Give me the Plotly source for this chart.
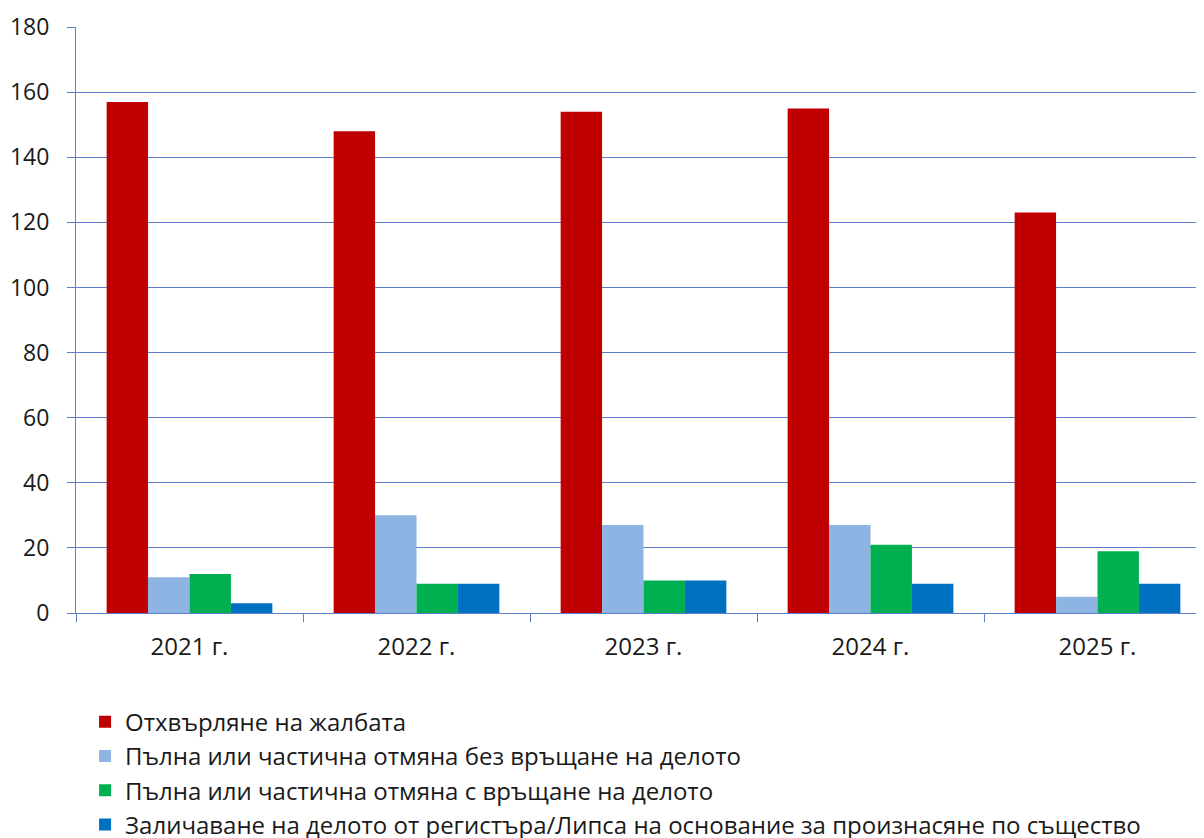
import plotly.graph_objects as go

years = ["2021 г.", "2022 г.", "2023 г.", "2024 г.", "2025 г."]

rejected = [157, 148, 154, 155, 123]
revoked_no_return = [11, 30, 27, 27, 5]
revoked_with_return = [12, 9, 10, 21, 19]
struck_off = [3, 9, 10, 9, 9]

series_names = [
    "Отхвърляне на жалбата",
    "Пълна или частична отмяна без връщане на делото",
    "Пълна или частична отмяна с връщане на делото",
    "Заличаване на делото от регистъра/Липса на основание за произнасяне по същество",
]
series_colors = ["#C00000", "#8EB4E3", "#00B050", "#0070C0"]

axis_blue = "#5B7FCC"

fig = go.Figure()

# one bar trace per outcome, each in its own legend group so the gap applies
for i, (name, vals, color) in enumerate(zip(
        series_names,
        [rejected, revoked_no_return, revoked_with_return, struck_off],
        series_colors)):
    fig.add_trace(
        go.Bar(
            x=years,
            y=vals,
            name=name,
            marker=dict(color=color, line=dict(width=0)),
            legendgroup=f"g{i}",
        )
    )

# the page body adds an 8px offset; the plot area runs slightly past the right edge
fig.update_layout(
    width=1204,
    height=830,
    barmode="group",
    bargap=0.27,
    bargroupgap=0,
    plot_bgcolor="white",
    paper_bgcolor="white",
    font=dict(family="Open Sans, Noto Sans, sans-serif", size=24, color="#1a1a1a"),
    margin=dict(l=68, r=1, t=19, b=225, autoexpand=False),
    showlegend=True,
    legend=dict(
        orientation="v",
        x=0.008,
        xanchor="left",
        y=-0.148,
        yanchor="top",
        traceorder="grouped",
        tracegroupgap=0,
        itemwidth=30,
        font=dict(size=24),
        bgcolor="rgba(0,0,0,0)",
    ),
)

fig.update_yaxes(
    range=[0, 180],
    tickvals=[0, 20, 40, 60, 80, 100, 120, 140, 160, 180],
    tickfont=dict(size=23),
    showgrid=True,
    gridcolor=axis_blue,
    gridwidth=1,
    showline=True,
    linecolor=axis_blue,
    linewidth=1,
    ticks="outside",
    ticklen=8,
    tickcolor=axis_blue,
    ticklabelstandoff=13,
    zeroline=False,
    automargin=False,
)

fig.update_xaxes(
    showline=True,
    linecolor=axis_blue,
    linewidth=1,
    ticks="outside",
    tickson="boundaries",
    ticklen=8,
    tickcolor=axis_blue,
    ticklabelstandoff=12,
    showgrid=False,
    automargin=False,
)

fig.write_html("out.html")
